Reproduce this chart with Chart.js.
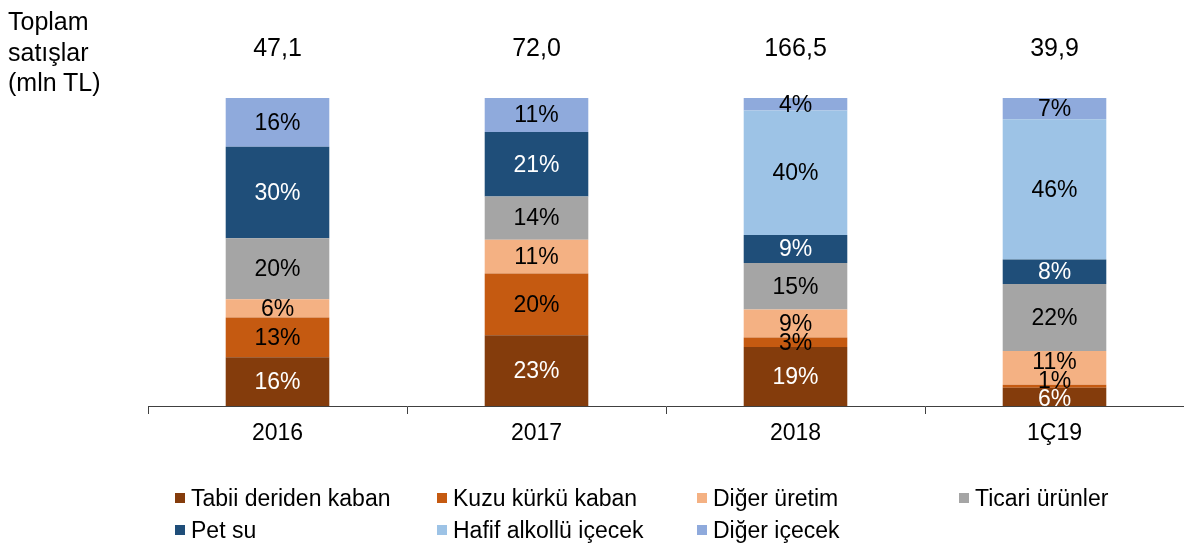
<!DOCTYPE html>
<html>
<head>
<meta charset="utf-8">
<script src="https://cdn.jsdelivr.net/npm/chart.js@4.4.1/dist/chart.umd.min.js"></script>
<style>
  html, body { margin: 0; padding: 0; background: #fff; }
  #wrap { position: relative; width: 1184px; height: 547px; font-family: "Liberation Sans", Arial, sans-serif; color: #000; }
  #c { position: absolute; left: 0; top: 0; }
  #ytitle { position: absolute; left: 8px; top: 6px; font-size: 25px; line-height: 30.5px; }
  .lg { position: absolute; display: flex; align-items: center; font-size: 23px; white-space: nowrap; height: 30px; }
  .lg .sw { width: 10px; height: 10px; margin-right: 6px; }
</style>
</head>
<body>
<div id="wrap">
  <canvas id="c" width="1184" height="547"></canvas>
  <div id="ytitle">Toplam<br>satışlar<br>(mln TL)</div>
  <div id="legend"></div>
</div>
<script>
// ---- data ----
const categories = ['2016', '2017', '2018', '1Ç19'];
const totals = [47.1, 72.0, 166.5, 39.9];
const seriesNames = ['Tabii deriden kaban', 'Kuzu kürkü kaban', 'Diğer üretim', 'Ticari ürünler', 'Pet su', 'Hafif alkollü içecek', 'Diğer içecek'];
const tabiiDeriden = [16, 23, 19, 6];
const kuzuKurku = [13, 20, 3, 1];
const digerUretim = [6, 11, 9, 11];
const ticariUrunler = [20, 14, 15, 22];
const petSu = [30, 21, 9, 8];
const hafifAlkollu = [0, 0, 40, 46];
const digerIcecek = [16, 11, 4, 7];

const seriesValues = [tabiiDeriden, kuzuKurku, digerUretim, ticariUrunler, petSu, hafifAlkollu, digerIcecek];
const seriesColors = ['#843C0C', '#C55A11', '#F4B183', '#A5A5A5', '#1F4E79', '#9DC3E6', '#8FAADC'];
const labelColors = ['#fff', '#000', '#000', '#000', '#fff', '#000', '#000'];

// 100% stacked: share of each bar's displayed total
const barSums = categories.map((_, j) => seriesValues.reduce((s, arr) => s + arr[j], 0));

const FONT = '"Liberation Sans", Arial, sans-serif';

const datasets = seriesValues.map((arr, i) => ({
  label: seriesNames[i],
  data: arr.map((v, j) => v / barSums[j] * 100),
  backgroundColor: seriesColors[i],
  borderWidth: 0,
  barPercentage: 0.4,
  categoryPercentage: 1.0
}));

// label nudges (px) for crowded small segments: key "dataset-index"
const nudges = { '2-3': -6, '1-3': -6, '0-3': 2 };

const labelPlugin = {
  id: 'segLabels',
  afterDatasetsDraw(chart) {
    const ctx = chart.ctx;
    ctx.save();
    ctx.textAlign = 'center';
    ctx.textBaseline = 'middle';
    ctx.font = '23px ' + FONT;
    chart.data.datasets.forEach((ds, i) => {
      const meta = chart.getDatasetMeta(i);
      meta.data.forEach((el, j) => {
        const v = seriesValues[i][j];
        if (!v) return;
        const y = (el.y + el.base) / 2 + (nudges[i + '-' + j] || 0);
        ctx.fillStyle = labelColors[i];
        ctx.fillText(v + '%', el.x, y + 1);
      });
    });
    // totals above bars
    ctx.fillStyle = '#000';
    ctx.font = '25px ' + FONT;
    const meta0 = chart.getDatasetMeta(0);
    meta0.data.forEach((el, j) => {
      ctx.fillText(totals[j].toFixed(1).replace('.', ','), el.x, chart.chartArea.top - 49);
    });
    ctx.restore();
  }
};

new Chart(document.getElementById('c'), {
  type: 'bar',
  data: { labels: categories, datasets },
  options: {
    responsive: false,
    animation: false,
    layout: { padding: { left: 148, top: 98, right: 0, bottom: 0 } },
    plugins: { legend: { display: false }, tooltip: { enabled: false } },
    scales: {
      x: {
        stacked: true,
        grid: { display: true, drawOnChartArea: false, drawTicks: true, tickLength: 8, color: '#404040', offset: true },
        border: { display: true, color: '#404040', width: 1 },
        ticks: { color: '#000', font: { family: FONT, size: 23 }, padding: 6 },
        afterFit(s) { s.height = 141; }
      },
      y: { stacked: true, display: false, min: 0, max: 100 }
    }
  },
  plugins: [labelPlugin]
});

// HTML legend built from series names/colors
const legendEl = document.getElementById('legend');
const colX = [175, 437, 697, 959];
const rowY = [483, 515];
seriesNames.forEach((name, i) => {
  const d = document.createElement('div');
  d.className = 'lg';
  d.style.left = colX[i % 4] + 'px';
  d.style.top = rowY[Math.floor(i / 4)] + 'px';
  d.innerHTML = '<span class="sw" style="background:' + seriesColors[i] + '"></span>' + name;
  legendEl.appendChild(d);
});
</script>
</body>
</html>
